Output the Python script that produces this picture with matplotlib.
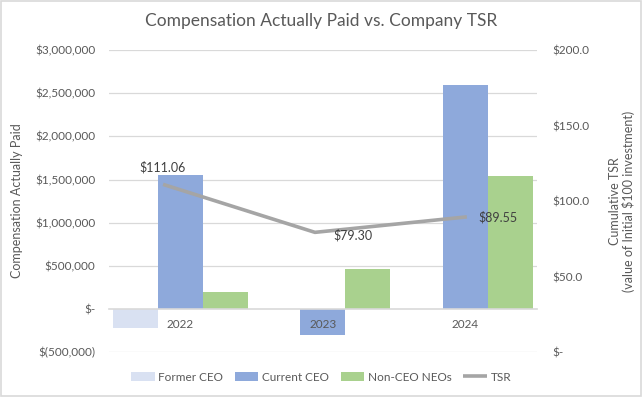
import numpy as np
import matplotlib
matplotlib.use("Agg")
import matplotlib.pyplot as plt
from matplotlib.patches import Rectangle
from matplotlib.ticker import FuncFormatter

# ── data ─────────────────────────────────────
years = ["2022", "2023", "2024"]
former_ceo = [-220000, 0, 0]
current_ceo = [1550000, -300000, 2600000]
non_ceo_neos = [200000, 465000, 1540000]
tsr = [111.06, 79.30, 89.55]

# ── style ────────────────────────────────────
plt.rcParams["font.family"] = ["Lato", "DejaVu Sans"]
TXT = "#595959"
GRID = "#D9D9D9"
C_FORMER = "#D9E1F2"
C_CURRENT = "#8EA9DB"
C_NEO = "#A9D18E"
C_TSR = "#A5A5A5"


def money_fmt(v, _):
    if v == 0:
        return "$-"
    if v < 0:
        return f"$({abs(v):,.0f})"
    return f"${v:,.0f}"


def tsr_fmt(v, _):
    return "$-" if v == 0 else f"${v:.1f}"


fig = plt.figure(figsize=(6.42, 3.97), dpi=100)
ax = fig.add_axes([0.170, 0.113, 0.666, 0.761])

x = np.arange(len(years))
w = 0.315
ax.bar(x - w, former_ceo, w, color=C_FORMER, label="Former CEO", zorder=1)
ax.bar(x, current_ceo, w, color=C_CURRENT, label="Current CEO", zorder=1)
ax.bar(x + w, non_ceo_neos, w, color=C_NEO, label="Non-CEO NEOs", zorder=1)

ax.set_xlim(-0.5, 2.5)
ax.set_ylim(-500000, 3000000)
yt = np.arange(-500000, 3000001, 500000)
ax.set_yticks(yt)
ax.yaxis.set_major_formatter(FuncFormatter(money_fmt))
# gridlines behind bars, tick labels stay on top
for v in yt:
    if v != 0:
        ax.axhline(v, color=GRID, linewidth=0.9, zorder=0.5)
for s in ["top", "right", "left"]:
    ax.spines[s].set_visible(False)
ax.spines["bottom"].set_position(("data", 0))
ax.spines["bottom"].set_color(GRID)
ax.spines["bottom"].set_linewidth(1.2)
ax.set_xticks(x)
ax.set_xticklabels(years)
ax.tick_params(axis="x", length=0, pad=7, labelsize=8.5, labelcolor=TXT)
ax.tick_params(axis="y", length=0, pad=10, labelsize=8.5, labelcolor=TXT)
ax.set_ylabel("Compensation Actually Paid", fontsize=9, color=TXT, labelpad=9)

# secondary axis for TSR
ax2 = ax.twinx()
ax2.set_ylim(0, 200)
ax2.set_yticks(np.arange(0, 201, 50))
ax2.yaxis.set_major_formatter(FuncFormatter(tsr_fmt))
ax2.tick_params(axis="y", length=0, pad=11, labelsize=8.5, labelcolor=TXT)
for s in ax2.spines.values():
    s.set_visible(False)
ax2.set_ylabel("Cumulative TSR\n(value of Initial $100 investment)",
               fontsize=9, color=TXT, labelpad=14, linespacing=1.1)

ax3 = ax2.twiny()
ax3.set_xlim(-0.355, 2.46)
ax3.set_xticks([])
for s in ax3.spines.values():
    s.set_visible(False)
line, = ax3.plot(np.arange(len(tsr)), tsr, color=C_TSR, linewidth=2.6,
                 label="TSR", solid_capstyle="butt", zorder=3)

offsets = [(0, 8, "center", "bottom"), (13, -2, "left", "center"), (8, 0, "left", "center")]
for i, v in enumerate(tsr):
    dx, dy, ha, va = offsets[i]
    ax3.annotate(f"${v:.2f}", (i, v), xytext=(dx, dy), textcoords="offset points",
                 ha=ha, va=va, fontsize=9, color="#404040")

fig.text(0.5, 0.948, "Compensation Actually Paid vs. Company TSR",
         ha="center", va="center", fontsize=12.5, color=TXT)

handles, labels = ax.get_legend_handles_labels()
handles.append(line)
labels.append("TSR")
fig.legend(handles, labels, loc="center", bbox_to_anchor=(0.5, 0.05), ncol=4,
           frameon=False, fontsize=8.5, labelcolor=TXT, handlelength=2.0,
           handleheight=0.8, columnspacing=1.0, handletextpad=0.3)

fig.patches.append(Rectangle((0.002, 0.003), 0.996, 0.994, transform=fig.transFigure,
                             fill=False, edgecolor=GRID, linewidth=1.2))

fig.savefig("out.png", dpi=100)
